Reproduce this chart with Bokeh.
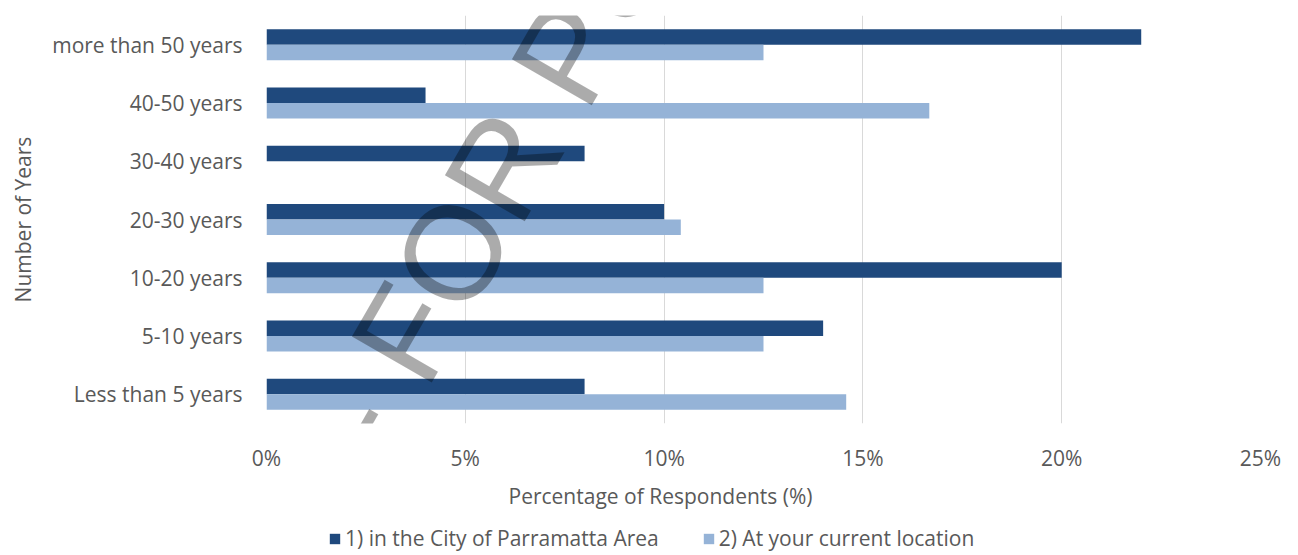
import math
from bokeh.plotting import figure
from bokeh.layouts import column
from bokeh.models import (FactorRange, Range1d, FixedTicker, PrintfTickFormatter,
                          Label, Legend, LegendItem, ColumnDataSource, Title)
from bokeh.transform import dodge
from bokeh.embed import file_html
from bokeh.resources import INLINE

# ---- data ----
categories = ["Less than 5 years", "5-10 years", "10-20 years", "20-30 years",
              "30-40 years", "40-50 years", "more than 50 years"]
city_area = [8.0, 14.0, 20.0, 10.0, 8.0, 4.0, 22.0]
current_location = [14.58, 12.5, 12.5, 10.42, 0.0, 16.67, 12.5]
x_ticks = [0, 5, 10, 15, 20, 25]
series_names = ["1) in the City of Parramatta Area", "2) At your current location"]
x_title = "Percentage of Respondents (%)"
y_title = "Number of Years"
watermark_text = "DRAFT - FOR PUBLIC EXHIBITION"

DARK = "#1F497D"
LIGHT = "#95B3D7"
TXT = "#595959"
FONT = "Open Sans"
FS = "21px"

src = ColumnDataSource(dict(cat=categories, city=city_area, loc=current_location))

H1 = 518
p = figure(width=1298, height=H1,
           y_range=FactorRange(factors=categories, range_padding=0),
           x_range=Range1d(0, 25),
           output_backend="svg", toolbar_location=None,
           min_border_left=266, min_border_right=38,
           min_border_top=15, min_border_bottom=H1 - 423)
p.outline_line_color = None

bar_h = 0.266
r1 = p.hbar(y=dodge("cat", bar_h / 2, range=p.y_range), right="city", left=0,
            height=bar_h, fill_color=DARK, line_color=None, source=src)
r2 = p.hbar(y=dodge("cat", -bar_h / 2, range=p.y_range), right="loc", left=0,
            height=bar_h, fill_color=LIGHT, line_color=None, source=src)

# grids
p.xgrid.ticker = FixedTicker(ticks=x_ticks)
p.xgrid.grid_line_color = "#D9D9D9"
p.xgrid.grid_line_width = 1
p.ygrid.grid_line_color = None

# x axis
xa = p.xaxis[0]
xa.ticker = FixedTicker(ticks=x_ticks)
xa.formatter = PrintfTickFormatter(format="%d%%")
xa.axis_line_color = None
xa.major_tick_line_color = None
xa.minor_tick_line_color = None
xa.major_tick_out = 0
xa.major_label_text_font = FONT
xa.major_label_text_font_size = FS
xa.major_label_text_color = TXT
xa.major_label_standoff = 20

# y axis
ya = p.yaxis[0]
ya.axis_line_color = None
ya.major_tick_line_color = None
ya.minor_tick_line_color = None
ya.major_tick_out = 0
ya.major_label_text_font = FONT
ya.major_label_text_font_size = FS
ya.major_label_text_color = TXT
ya.major_label_standoff = 24
ya.axis_label = y_title
ya.axis_label_text_font = FONT
ya.axis_label_text_font_size = FS
ya.axis_label_text_font_style = "normal"
ya.axis_label_text_color = TXT
ya.axis_label_standoff = 12

# x axis title (offset to the left, as in the reference)
p.add_layout(Title(text=x_title, align="left", offset=242, standoff=10,
                   text_font=FONT, text_font_size=FS, text_font_style="normal",
                   text_color=TXT), "below")

# watermark
p.add_layout(Label(x=-4.08, y=-7.43, x_units="data", y_units="data",
                   text=watermark_text, angle=math.radians(60), angle_units="rad",
                   text_align="left", text_baseline="alphabetic",
                   text_font="Liberation Sans", text_font_size="134px",
                   text_color="black", text_alpha=0.33))

# ---- legend strip below the chart (frame aligned with the chart's frame) ----
H2 = 555 - H1
pl = figure(width=1298, height=H2, x_range=Range1d(0, 1), y_range=Range1d(0, 1),
            output_backend="svg", toolbar_location=None,
            x_axis_location=None, y_axis_location=None,
            min_border_left=0, min_border_right=0, min_border_top=0, min_border_bottom=0)
pl.outline_line_color = None
pl.xgrid.visible = False
pl.ygrid.visible = False
# legend swatches (kept outside the strip's visible range)
g1 = pl.hbar(y=[-5], right=[1], left=0, height=0.5, fill_color=DARK, line_color=None)
g2 = pl.hbar(y=[-5], right=[1], left=0, height=0.5, fill_color=LIGHT, line_color=None)
legend = Legend(items=[LegendItem(label=series_names[0], renderers=[g1]),
                       LegendItem(label=series_names[1], renderers=[g2])],
                orientation="horizontal", location=(62, 3),
                padding=0, margin=0, spacing=43,
                border_line_color=None, background_fill_alpha=0,
                label_text_font=FONT, label_text_font_size=FS,
                label_text_color=TXT, label_standoff=4,
                glyph_width=13, glyph_height=13)
pl.add_layout(legend, "center")

layout = column(p, pl, spacing=0)
open("out.html", "w").write(file_html(layout, INLINE))
